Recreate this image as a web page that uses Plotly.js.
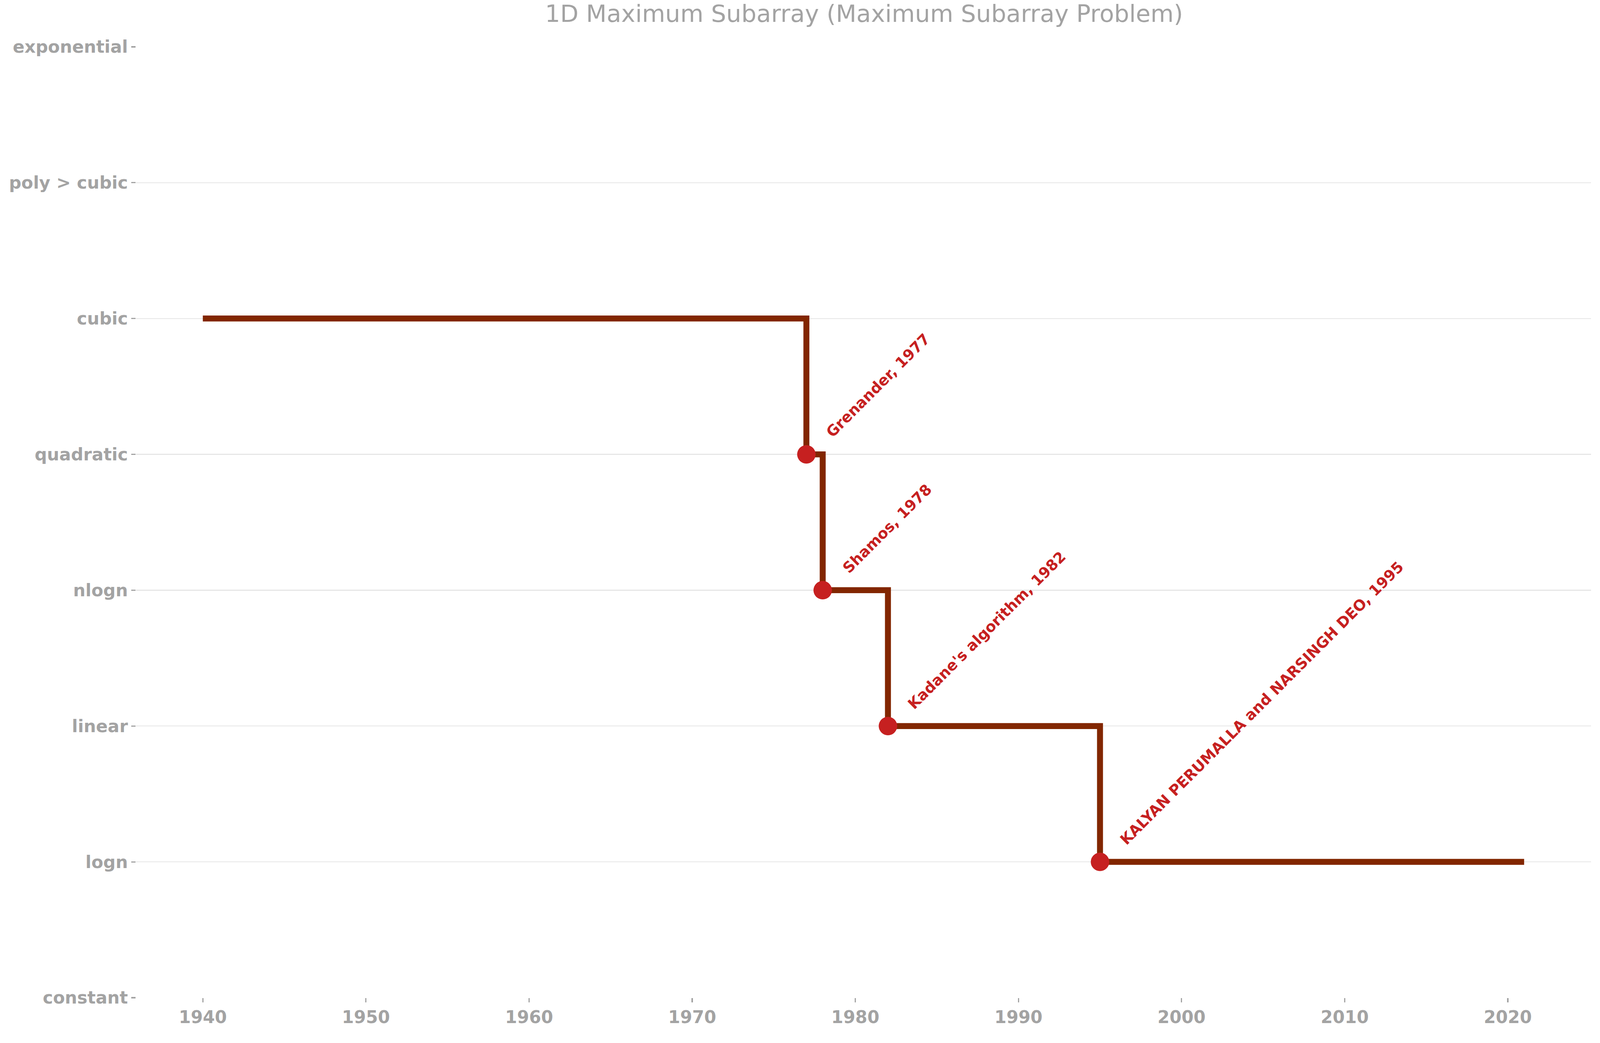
<!DOCTYPE html>
<html>
<head>
<meta charset="utf-8">
<script src="https://cdn.plot.ly/plotly-3.0.1.min.js"></script>
<style>html,body{margin:0;padding:0;background:#fff;overflow:hidden;}#chart{width:100vw;height:100vh;}</style>
</head>
<body>
<div id="chart"></div>
<script>
const classes = ["constant", "logn", "linear", "nlogn", "quadratic", "cubic", "poly > cubic", "exponential"];
const stepYears = [1940, 1977, 1978, 1982, 1995, 2021];
const stepLevels = [5, 4, 3, 2, 1, 1];
const pointYears = [1977, 1978, 1982, 1995];
const pointLevels = [4, 3, 2, 1];
const pointLabels = ["Grenander, 1977", "Shamos, 1978", "Kadane's algorithm, 1982", "KALYAN PERUMALLA and NARSINGH DEO, 1995"];

const font = "DejaVu Sans";
const grey = "#a3a3a3";
const red = "#c62020";

// scale everything to the actual viewport (designed for 5370 x 2671)
const W = window.innerWidth, H = window.innerHeight;
const s = W / 5370, sy = H / 2671;

var data = [{
  x: stepYears, y: stepLevels,
  mode: "lines",
  line: {color: "#822600", width: 20 * s, shape: "hv"},
  hoverinfo: "skip"
}, {
  x: pointYears, y: pointLevels,
  mode: "markers",
  marker: {color: red, size: 62 * s}
}];

var annotations = pointYears.map(function (yr, i) {
  return {
    x: yr, y: pointLevels[i], text: pointLabels[i],
    showarrow: false, textangle: -45,
    xanchor: "left", yanchor: "bottom",
    xshift: 52 * s, yshift: 42 * s,
    font: {family: font, size: 50 * s, color: red, weight: "bold"}
  };
});

var layout = {
  width: W, height: H,
  showlegend: false,
  paper_bgcolor: "#fff", plot_bgcolor: "#fff",
  margin: {l: 456 * s, r: 30 * s, t: 120 * sy, b: 116 * sy},
  title: {text: "1D Maximum Subarray (Maximum Subarray Problem)", x: 0.54, xanchor: "center", y: 0.995, yanchor: "top",
          font: {family: font, size: 80 * s, color: grey}},
  xaxis: {
    range: [1935.9, 2025.1], dtick: 10, tick0: 1940,
    showgrid: false, zeroline: false, showline: false,
    ticks: "outside", ticklen: 14 * s, tickwidth: 4 * s, tickcolor: grey,
    tickfont: {family: font, size: 58 * s, color: grey, weight: "bold"}
  },
  yaxis: {
    range: [0, 7], tickvals: classes.map((c, i) => i), ticktext: classes,
    showgrid: true, gridcolor: "#e6e6e6", gridwidth: 3 * s,
    zeroline: false, showline: false,
    ticks: "outside", ticklen: 14 * s, tickwidth: 4 * s, tickcolor: grey,
    tickfont: {family: font, size: 58 * s, color: grey, weight: "bold"}
  },
  annotations: annotations
};

Plotly.newPlot("chart", data, layout, {staticPlot: true});
</script>
</body>
</html>
